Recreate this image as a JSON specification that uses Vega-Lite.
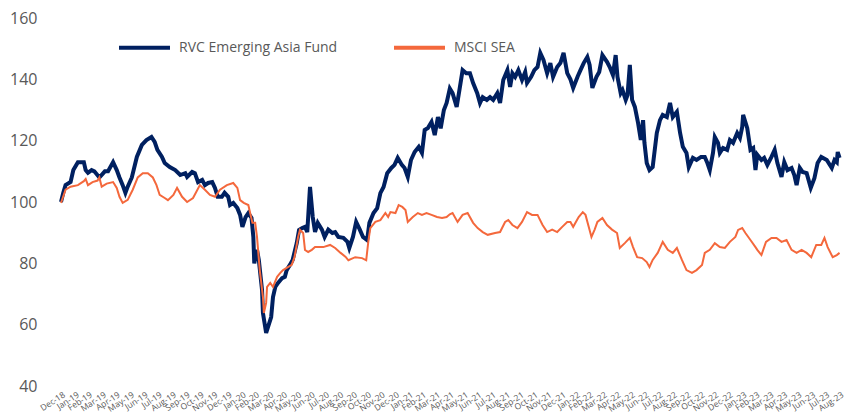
{
  "$schema": "https://vega.github.io/schema/vega-lite/v6.json",
  "width": 779,
  "height": 368,
  "autosize": {"type": "none"},
  "padding": {"left": 61, "top": 18, "right": 11, "bottom": 29},
  "background": "white",
  "config": {
    "view": {"stroke": null},
    "font": "Open Sans",
    "axis": {"grid": false, "domain": false, "ticks": false, "labelColor": "#595959", "title": null}
  },
  "datasets": {
    "rvc": [
      {"date":"2018-12-31","value":100},{"date":"2019-01-05","value":103},{"date":"2019-01-10","value":105.5},{"date":"2019-01-21","value":106.5},{"date":"2019-01-27","value":110.4},{"date":"2019-02-06","value":113},{"date":"2019-02-19","value":113},{"date":"2019-02-23","value":110.4},{"date":"2019-02-28","value":109.5},{"date":"2019-03-08","value":110.4},{"date":"2019-03-14","value":110},{"date":"2019-03-25","value":108},{"date":"2019-04-06","value":110},{"date":"2019-04-13","value":110},{"date":"2019-04-24","value":113},{"date":"2019-05-02","value":110.4},{"date":"2019-05-08","value":108},{"date":"2019-05-15","value":105.5},{"date":"2019-05-21","value":103},{"date":"2019-05-26","value":105},{"date":"2019-06-04","value":108},{"date":"2019-06-15","value":114.7},{"date":"2019-06-26","value":118.6},{"date":"2019-07-06","value":120.2},{"date":"2019-07-17","value":121.2},{"date":"2019-07-24","value":119.6},{"date":"2019-07-30","value":117},{"date":"2019-08-09","value":114.7},{"date":"2019-08-15","value":112.7},{"date":"2019-08-26","value":111.4},{"date":"2019-09-07","value":110.4},{"date":"2019-09-18","value":108.8},{"date":"2019-09-29","value":109.4},{"date":"2019-10-03","value":108.2},{"date":"2019-10-14","value":109.8},{"date":"2019-10-20","value":109.4},{"date":"2019-10-27","value":106.5},{"date":"2019-11-05","value":107.2},{"date":"2019-11-11","value":105.5},{"date":"2019-11-18","value":106.2},{"date":"2019-11-27","value":106.5},{"date":"2019-12-03","value":104.6},{"date":"2019-12-09","value":101.7},{"date":"2019-12-18","value":101.7},{"date":"2019-12-24","value":103},{"date":"2020-01-01","value":101.7},{"date":"2020-01-05","value":99},{"date":"2020-01-12","value":99.7},{"date":"2020-01-21","value":98},{"date":"2020-01-27","value":95.8},{"date":"2020-02-01","value":91.9},{"date":"2020-02-08","value":95.1},{"date":"2020-02-14","value":96.4},{"date":"2020-02-21","value":94.8},{"date":"2020-02-25","value":88.6},{"date":"2020-02-27","value":80},{"date":"2020-03-04","value":84.4},{"date":"2020-03-08","value":81.1},{"date":"2020-03-15","value":71.3},{"date":"2020-03-17","value":63.8},{"date":"2020-03-24","value":57.3},{"date":"2020-03-28","value":59.2},{"date":"2020-04-04","value":62.5},{"date":"2020-04-08","value":69},{"date":"2020-04-13","value":72.3},{"date":"2020-04-19","value":73.6},{"date":"2020-04-28","value":75.2},{"date":"2020-05-04","value":75.6},{"date":"2020-05-08","value":77.8},{"date":"2020-05-15","value":79.5},{"date":"2020-05-21","value":81.1},{"date":"2020-05-30","value":86.6},{"date":"2020-06-04","value":90.9},{"date":"2020-06-11","value":91.5},{"date":"2020-06-17","value":91.9},{"date":"2020-06-22","value":90.2},{"date":"2020-06-28","value":104.9},{"date":"2020-07-04","value":95.1},{"date":"2020-07-09","value":90.2},{"date":"2020-07-15","value":93.2},{"date":"2020-07-24","value":91},{"date":"2020-07-30","value":88.6},{"date":"2020-08-07","value":91},{"date":"2020-08-16","value":89.9},{"date":"2020-08-22","value":90.2},{"date":"2020-08-29","value":88.6},{"date":"2020-09-09","value":88.3},{"date":"2020-09-18","value":87},{"date":"2020-09-22","value":85},{"date":"2020-09-30","value":88.6},{"date":"2020-10-07","value":93.5},{"date":"2020-10-15","value":91},{"date":"2020-10-22","value":88.6},{"date":"2020-10-31","value":87.6},{"date":"2020-11-05","value":93.2},{"date":"2020-11-14","value":96.4},{"date":"2020-11-22","value":98},{"date":"2020-11-29","value":102.9},{"date":"2020-12-06","value":104.9},{"date":"2020-12-14","value":109.4},{"date":"2020-12-23","value":111.1},{"date":"2020-12-30","value":112.1},{"date":"2021-01-06","value":114.4},{"date":"2021-01-15","value":112.1},{"date":"2021-01-21","value":111.1},{"date":"2021-01-28","value":108.2},{"date":"2021-02-04","value":113.7},{"date":"2021-02-12","value":116.3},{"date":"2021-02-21","value":118},{"date":"2021-02-28","value":116},{"date":"2021-03-06","value":123.5},{"date":"2021-03-13","value":124.1},{"date":"2021-03-21","value":126.1},{"date":"2021-03-28","value":121.8},{"date":"2021-04-04","value":127.7},{"date":"2021-04-10","value":124},{"date":"2021-04-17","value":130},{"date":"2021-04-23","value":132.3},{"date":"2021-04-30","value":137},{"date":"2021-05-06","value":135.5},{"date":"2021-05-15","value":131},{"date":"2021-05-21","value":136.5},{"date":"2021-05-28","value":143},{"date":"2021-06-05","value":142},{"date":"2021-06-13","value":142},{"date":"2021-06-20","value":138.8},{"date":"2021-06-29","value":135.5},{"date":"2021-07-05","value":132.3},{"date":"2021-07-11","value":134.2},{"date":"2021-07-20","value":133.3},{"date":"2021-07-27","value":134.2},{"date":"2021-08-03","value":133.3},{"date":"2021-08-12","value":135.5},{"date":"2021-08-18","value":132.3},{"date":"2021-08-25","value":139.8},{"date":"2021-09-03","value":143},{"date":"2021-09-09","value":137.5},{"date":"2021-09-14","value":142},{"date":"2021-09-20","value":140.8},{"date":"2021-09-27","value":143},{"date":"2021-10-05","value":139.8},{"date":"2021-10-12","value":142.4},{"date":"2021-10-16","value":138.8},{"date":"2021-10-25","value":140.8},{"date":"2021-11-01","value":143},{"date":"2021-11-08","value":144},{"date":"2021-11-14","value":148.6},{"date":"2021-11-21","value":146.3},{"date":"2021-11-29","value":142},{"date":"2021-12-06","value":145.3},{"date":"2021-12-12","value":140.8},{"date":"2021-12-21","value":144},{"date":"2021-12-28","value":145.3},{"date":"2022-01-04","value":148.6},{"date":"2022-01-12","value":142},{"date":"2022-01-19","value":140},{"date":"2022-01-25","value":137.2},{"date":"2022-02-04","value":141},{"date":"2022-02-10","value":143},{"date":"2022-02-17","value":145.3},{"date":"2022-02-25","value":147.3},{"date":"2022-03-02","value":144.7},{"date":"2022-03-08","value":137.2},{"date":"2022-03-17","value":140.8},{"date":"2022-03-23","value":142.4},{"date":"2022-03-30","value":147.9},{"date":"2022-04-09","value":145.7},{"date":"2022-04-15","value":144},{"date":"2022-04-22","value":141.4},{"date":"2022-04-28","value":147.9},{"date":"2022-05-02","value":140.8},{"date":"2022-05-09","value":135.5},{"date":"2022-05-13","value":136.5},{"date":"2022-05-20","value":133.3},{"date":"2022-05-24","value":134.9},{"date":"2022-05-29","value":144.7},{"date":"2022-06-03","value":133.3},{"date":"2022-06-09","value":131},{"date":"2022-06-16","value":125.8},{"date":"2022-06-22","value":120.2},{"date":"2022-06-27","value":126.7},{"date":"2022-06-30","value":119.3},{"date":"2022-07-05","value":112.7},{"date":"2022-07-11","value":110.4},{"date":"2022-07-18","value":111.4},{"date":"2022-07-27","value":122.5},{"date":"2022-08-03","value":126.7},{"date":"2022-08-09","value":128.4},{"date":"2022-08-18","value":127.7},{"date":"2022-08-25","value":132.3},{"date":"2022-08-31","value":127.7},{"date":"2022-09-09","value":129.4},{"date":"2022-09-16","value":122.5},{"date":"2022-09-22","value":118},{"date":"2022-09-30","value":116},{"date":"2022-10-05","value":111.4},{"date":"2022-10-14","value":114.4},{"date":"2022-10-22","value":113.7},{"date":"2022-11-01","value":114.7},{"date":"2022-11-09","value":114.7},{"date":"2022-11-14","value":113},{"date":"2022-11-20","value":110.4},{"date":"2022-11-27","value":116},{"date":"2022-12-01","value":121.2},{"date":"2022-12-08","value":119.3},{"date":"2022-12-12","value":116},{"date":"2022-12-19","value":117.6},{"date":"2022-12-28","value":117},{"date":"2023-01-03","value":120.2},{"date":"2023-01-10","value":119.3},{"date":"2023-01-19","value":122.5},{"date":"2023-01-25","value":120.9},{"date":"2023-01-30","value":124.5},{"date":"2023-02-01","value":128.4},{"date":"2023-02-10","value":124.1},{"date":"2023-02-17","value":117},{"date":"2023-02-23","value":117.6},{"date":"2023-02-28","value":110.4},{"date":"2023-03-04","value":115.4},{"date":"2023-03-13","value":113.7},{"date":"2023-03-19","value":114.4},{"date":"2023-03-26","value":112.1},{"date":"2023-04-04","value":114.7},{"date":"2023-04-11","value":117},{"date":"2023-04-17","value":112.7},{"date":"2023-04-26","value":108.2},{"date":"2023-05-02","value":113},{"date":"2023-05-09","value":110.4},{"date":"2023-05-18","value":111.1},{"date":"2023-05-24","value":108.8},{"date":"2023-05-29","value":105.5},{"date":"2023-06-05","value":111.1},{"date":"2023-06-11","value":109.8},{"date":"2023-06-20","value":109.4},{"date":"2023-06-29","value":104.6},{"date":"2023-07-07","value":107.8},{"date":"2023-07-14","value":112.7},{"date":"2023-07-22","value":114.7},{"date":"2023-08-03","value":113.7},{"date":"2023-08-14","value":111.1},{"date":"2023-08-20","value":113.7},{"date":"2023-08-25","value":113},{"date":"2023-08-27","value":116.3},{"date":"2023-08-31","value":114.4}
    ],
    "msci": [
      {"date":"2018-12-31","value":99.7},{"date":"2019-01-10","value":104},{"date":"2019-01-21","value":105},{"date":"2019-02-06","value":105.5},{"date":"2019-02-19","value":106.8},{"date":"2019-02-23","value":107.5},{"date":"2019-02-28","value":105.5},{"date":"2019-03-10","value":106.5},{"date":"2019-03-21","value":107},{"date":"2019-03-25","value":108},{"date":"2019-03-30","value":105},{"date":"2019-04-10","value":106},{"date":"2019-04-24","value":106.5},{"date":"2019-05-02","value":104.6},{"date":"2019-05-08","value":101.7},{"date":"2019-05-15","value":99.7},{"date":"2019-05-26","value":100.7},{"date":"2019-06-06","value":104},{"date":"2019-06-17","value":108},{"date":"2019-06-28","value":109.4},{"date":"2019-07-09","value":109.4},{"date":"2019-07-20","value":108},{"date":"2019-07-28","value":105.5},{"date":"2019-08-04","value":102.3},{"date":"2019-08-15","value":101.3},{"date":"2019-08-22","value":100.6},{"date":"2019-09-03","value":102.3},{"date":"2019-09-11","value":104.6},{"date":"2019-09-22","value":101.7},{"date":"2019-10-03","value":100},{"date":"2019-10-16","value":101.3},{"date":"2019-10-31","value":105.5},{"date":"2019-11-11","value":104},{"date":"2019-11-22","value":102.3},{"date":"2019-12-03","value":101.7},{"date":"2019-12-14","value":104},{"date":"2019-12-29","value":105.5},{"date":"2020-01-12","value":106.2},{"date":"2020-01-21","value":104.6},{"date":"2020-01-27","value":100.6},{"date":"2020-02-04","value":99.7},{"date":"2020-02-14","value":99},{"date":"2020-02-23","value":93.2},{"date":"2020-02-29","value":93.2},{"date":"2020-03-04","value":88.6},{"date":"2020-03-10","value":77.8},{"date":"2020-03-17","value":69},{"date":"2020-03-19","value":63.8},{"date":"2020-03-24","value":67.1},{"date":"2020-03-26","value":72.3},{"date":"2020-04-02","value":73.6},{"date":"2020-04-08","value":72.3},{"date":"2020-04-17","value":75.6},{"date":"2020-04-24","value":76.9},{"date":"2020-04-30","value":77.8},{"date":"2020-05-08","value":78.5},{"date":"2020-05-19","value":79.5},{"date":"2020-05-25","value":82},{"date":"2020-06-02","value":88.6},{"date":"2020-06-06","value":90.9},{"date":"2020-06-13","value":89.9},{"date":"2020-06-17","value":84.4},{"date":"2020-06-24","value":83.7},{"date":"2020-07-02","value":84.4},{"date":"2020-07-09","value":85.3},{"date":"2020-07-20","value":85.3},{"date":"2020-07-27","value":85.3},{"date":"2020-08-11","value":86},{"date":"2020-08-22","value":85},{"date":"2020-09-03","value":83.4},{"date":"2020-09-14","value":82.1},{"date":"2020-09-20","value":81},{"date":"2020-10-05","value":82},{"date":"2020-10-20","value":81.7},{"date":"2020-10-29","value":81},{"date":"2020-11-03","value":87.6},{"date":"2020-11-07","value":91.5},{"date":"2020-11-18","value":93.5},{"date":"2020-11-29","value":94.1},{"date":"2020-12-10","value":96.4},{"date":"2020-12-16","value":95.1},{"date":"2020-12-21","value":96.7},{"date":"2021-01-01","value":96.4},{"date":"2021-01-08","value":99},{"date":"2021-01-16","value":98.4},{"date":"2021-01-23","value":97.4},{"date":"2021-01-28","value":93.5},{"date":"2021-02-08","value":95.1},{"date":"2021-02-19","value":96.4},{"date":"2021-02-28","value":95.8},{"date":"2021-03-10","value":96.4},{"date":"2021-03-21","value":95.8},{"date":"2021-04-02","value":95.1},{"date":"2021-04-13","value":94.8},{"date":"2021-04-23","value":95.1},{"date":"2021-04-30","value":96},{"date":"2021-05-06","value":96.4},{"date":"2021-05-17","value":93.5},{"date":"2021-05-28","value":95.8},{"date":"2021-06-08","value":96.4},{"date":"2021-06-20","value":93.2},{"date":"2021-06-30","value":91.5},{"date":"2021-07-11","value":90.2},{"date":"2021-07-22","value":89.3},{"date":"2021-08-07","value":89.9},{"date":"2021-08-18","value":90.2},{"date":"2021-08-29","value":93.5},{"date":"2021-09-05","value":94.1},{"date":"2021-09-14","value":92.5},{"date":"2021-09-25","value":91.5},{"date":"2021-10-05","value":93.5},{"date":"2021-10-16","value":96.7},{"date":"2021-10-27","value":95.8},{"date":"2021-11-08","value":95.8},{"date":"2021-11-19","value":92.5},{"date":"2021-11-29","value":90.2},{"date":"2021-12-10","value":91},{"date":"2021-12-21","value":90.2},{"date":"2022-01-01","value":91.9},{"date":"2022-01-12","value":93.5},{"date":"2022-01-19","value":93.5},{"date":"2022-01-25","value":91.9},{"date":"2022-02-06","value":95.1},{"date":"2022-02-15","value":96.7},{"date":"2022-02-21","value":95.8},{"date":"2022-02-28","value":91.9},{"date":"2022-03-06","value":88.6},{"date":"2022-03-13","value":91},{"date":"2022-03-19","value":93.5},{"date":"2022-03-30","value":94.8},{"date":"2022-04-09","value":92.5},{"date":"2022-04-20","value":91},{"date":"2022-05-01","value":89.9},{"date":"2022-05-07","value":85},{"date":"2022-05-18","value":86.6},{"date":"2022-05-29","value":88.3},{"date":"2022-06-05","value":85.3},{"date":"2022-06-14","value":82},{"date":"2022-06-25","value":81.7},{"date":"2022-07-05","value":80.4},{"date":"2022-07-11","value":78.8},{"date":"2022-07-18","value":81.1},{"date":"2022-07-29","value":83.4},{"date":"2022-08-09","value":87},{"date":"2022-08-20","value":84.4},{"date":"2022-08-31","value":83.4},{"date":"2022-09-09","value":85},{"date":"2022-09-20","value":81.1},{"date":"2022-09-30","value":77.8},{"date":"2022-10-12","value":76.9},{"date":"2022-10-22","value":77.8},{"date":"2022-11-03","value":79.5},{"date":"2022-11-09","value":83.4},{"date":"2022-11-20","value":84.4},{"date":"2022-12-01","value":86.6},{"date":"2022-12-12","value":85.3},{"date":"2022-12-23","value":85},{"date":"2023-01-03","value":87},{"date":"2023-01-15","value":88.6},{"date":"2023-01-21","value":90.9},{"date":"2023-01-30","value":91.5},{"date":"2023-02-06","value":89.9},{"date":"2023-02-17","value":87.6},{"date":"2023-02-28","value":85.3},{"date":"2023-03-04","value":84.4},{"date":"2023-03-13","value":82.7},{"date":"2023-03-23","value":87},{"date":"2023-04-04","value":88.3},{"date":"2023-04-15","value":88.3},{"date":"2023-04-26","value":87},{"date":"2023-05-07","value":87.6},{"date":"2023-05-18","value":84.4},{"date":"2023-05-29","value":83.4},{"date":"2023-06-09","value":84.4},{"date":"2023-06-20","value":83.4},{"date":"2023-06-30","value":82},{"date":"2023-07-11","value":86},{"date":"2023-07-22","value":86},{"date":"2023-07-29","value":88.3},{"date":"2023-08-05","value":85.3},{"date":"2023-08-16","value":82},{"date":"2023-08-25","value":82.7},{"date":"2023-08-31","value":83.4}
    ]
  },
  "encoding": {
    "x": {
      "field": "date", "type": "temporal",
      "scale": {"domain": [{"year": 2018, "month": 12, "date": 31}, {"year": 2023, "month": 9, "date": 1}], "nice": false},
      "axis": {
        "tickCount": {"interval": "month", "step": 1},
        "labelExpr": "timeFormat(datum.value - 86400000, '%b-%y')",
        "labelAngle": -33, "labelAlign": "right", "labelBaseline": "top",
        "labelFontSize": 8.5, "labelPadding": 4, "labelOverlap": false, "labelBound": false, "labelFlush": false
      }
    },
    "y": {
      "field": "value", "type": "quantitative",
      "scale": {"domain": [40, 160], "nice": false, "zero": false},
      "axis": {"values": [40, 60, 80, 100, 120, 140, 160], "labelFontSize": 16, "labelPadding": 24}
    }
  },
  "layer": [
    {
      "data": {"name": "rvc"},
      "mark": {"type": "line", "strokeWidth": 4, "interpolate": "linear"},
      "encoding": {
        "color": {
          "datum": "RVC Emerging Asia Fund", "type": "nominal",
          "scale": {"domain": ["RVC Emerging Asia Fund", "MSCI SEA"], "range": ["#002060", "#F4683C"]},
          "legend": {
            "orient": "none", "legendX": 56, "legendY": 2, "direction": "horizontal", "title": null,
            "symbolType": "stroke", "symbolSize": 2600, "symbolStrokeWidth": 4,
            "labelFontSize": 14, "labelColor": "#595959", "labelOffset": 7, "columnPadding": 48, "padding": 0
          }
        }
      }
    },
    {
      "data": {"name": "msci"},
      "mark": {"type": "line", "strokeWidth": 2, "interpolate": "linear"},
      "encoding": {
        "color": {"datum": "MSCI SEA", "type": "nominal"}
      }
    }
  ]
}
